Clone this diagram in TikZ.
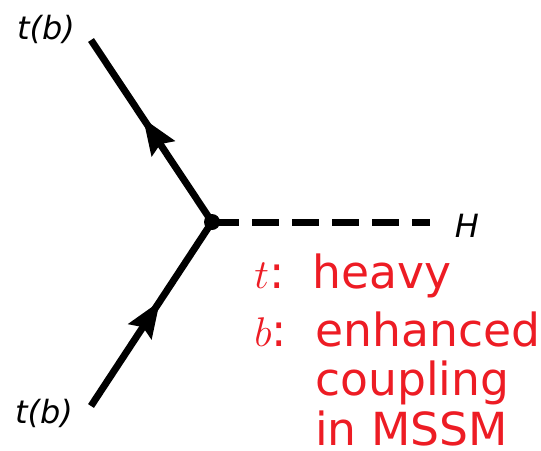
\documentclass[tikz,border=0pt]{standalone}
\usepackage{fontspec}
\setmainfont{DejaVu Sans}
\usetikzlibrary{arrows.meta,decorations.markings}
\definecolor{notered}{RGB}{237,28,36}
\newcommand{\notegap}{\hspace{0.62em}}
\tikzset{
  fermion/.style={line width=3.5pt, postaction={decorate},
    decoration={markings, mark=at position 0.57 with {\arrow{Stealth[length=18pt,width=13.5pt,inset=2.5pt]}}}},
  scalar/.style={line width=3.5pt, dash pattern=on 13.5pt off 6.5pt},
  vertex/.style={circle, fill, inner sep=0pt, minimum size=8pt},
  leg/.style={font=\fontsize{16}{19}\selectfont\itshape},
  note/.style={text=notered, font=\fontsize{22.8}{24.75}\selectfont, anchor=base west, inner sep=0pt, align=left}
}
\begin{document}
\begin{tikzpicture}[x=0.5pt, y=-0.5pt]
  \useasboundingbox (0,0) rectangle (541,450);
  % vertex and external legs
  \node[vertex] (v) at (212,222) {};
  \coordinate (qout) at (91,40);
  \coordinate (qin) at (91,406);
  \coordinate (hend) at (430,222);
  \node[leg] (tout) at (46,29) {t(b)};
  \node[leg] (tin) at (44,413) {t(b)};
  \node[leg] (higgs) at (467,226) {H};

  % propagators
  \draw[fermion] (qin) -- (v.center);
  \draw[fermion] (v.center) -- (qout);
  \draw[scalar] (v.center) -- (hend);

  % notes (base of a multi-line node is its last line)
  \node[note] (heavy) at (254,288) {$t$:\notegap heavy};
  \node[note] (enh) at (254,445) {$b$:\notegap enhanced\\\hphantom{$b$:\notegap}coupling\\\hphantom{$b$:\notegap}in MSSM};
\end{tikzpicture}
\end{document}
